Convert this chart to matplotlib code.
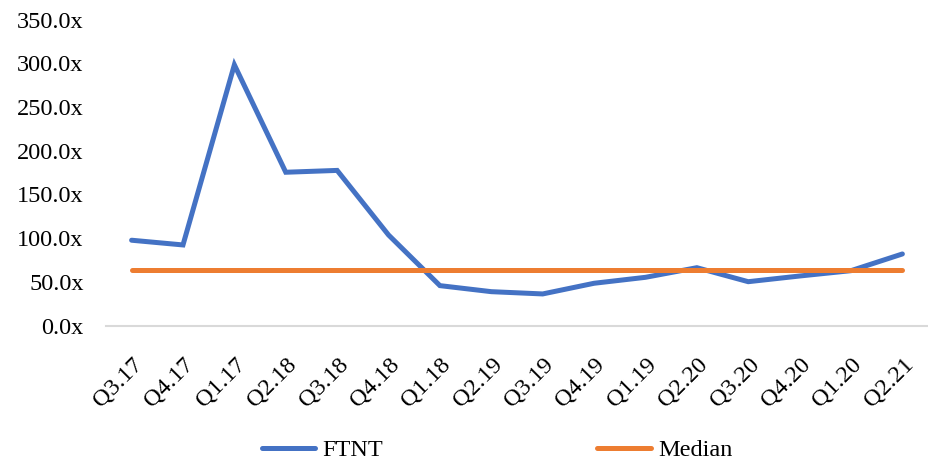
import matplotlib.pyplot as plt
from matplotlib.ticker import FuncFormatter

quarters = ["Q3.17", "Q4.17", "Q1.17", "Q2.18", "Q3.18", "Q4.18", "Q1.18", "Q2.19",
            "Q3.19", "Q4.19", "Q1.19", "Q2.20", "Q3.20", "Q4.20", "Q1.20", "Q2.21"]
ftnt = [97.7, 92.3, 298.2, 175.4, 177.5, 103.7, 45.8, 38.9,
        36.3, 48.5, 55.3, 66.3, 50.3, 56.8, 62.9, 82.0]
median_value = 63.7
median = [median_value] * len(quarters)

plt.rcParams['font.family'] = ['Liberation Serif', 'DejaVu Serif']

fig = plt.figure(figsize=(9.29, 4.61), dpi=100)
ax = fig.add_axes([0.114, 0.2935, 0.885, 0.6642])

x = list(range(len(quarters)))
ax.plot(x, ftnt, color="#4472C4", lw=3.6, solid_capstyle="round",
        solid_joinstyle="miter", label="FTNT")
ax.plot(x, median, color="#ED7D31", lw=3.6, solid_capstyle="round", label="Median")

ax.set_xlim(-0.5, len(quarters) - 0.5)
ax.set_ylim(0, 350)
ax.set_yticks(range(0, 351, 50))
ax.yaxis.set_major_formatter(FuncFormatter(lambda v, p: f"{v:.1f}x"))
ax.set_xticks(x)
ax.set_xticklabels(quarters, rotation=45, ha="right", va="top", rotation_mode="anchor")

for s in ["top", "right", "left"]:
    ax.spines[s].set_visible(False)
ax.spines["bottom"].set_color("#D9D9D9")
ax.spines["bottom"].set_linewidth(1.5)
ax.tick_params(axis="both", length=0, labelsize=17.5)
ax.tick_params(axis="y", pad=16)
ax.tick_params(axis="x", pad=20)

fig.legend(loc="lower center", bbox_to_anchor=(0.535, -0.048), ncol=2, frameon=False,
           fontsize=17.5, handlelength=2.2, columnspacing=8.8, handletextpad=0.3)

fig.savefig("out.png", dpi=100)
